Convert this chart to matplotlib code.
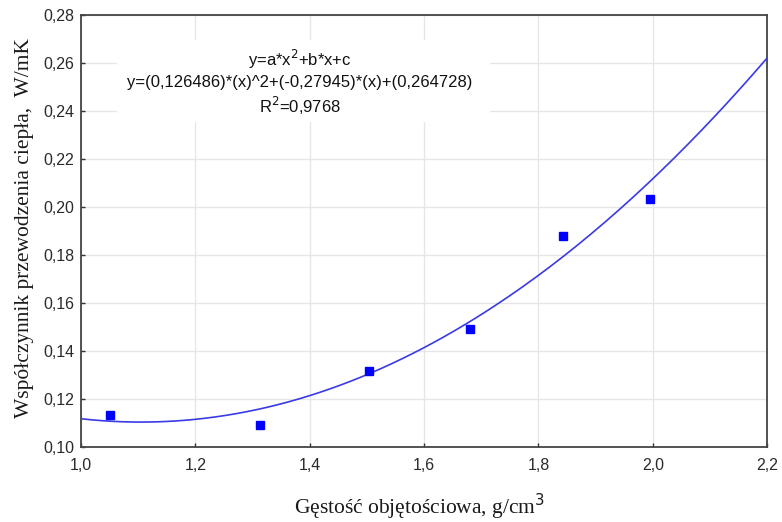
import numpy as np
import matplotlib
matplotlib.use('Agg')
import matplotlib.pyplot as plt
from matplotlib.patches import Rectangle
from matplotlib.ticker import FuncFormatter, MultipleLocator

# measured points (density g/cm3, conductivity W/mK)
density = [1.05, 1.313, 1.504, 1.680, 1.843, 1.995]
conductivity = [0.1133, 0.1092, 0.1317, 0.1492, 0.1879, 0.2033]

# fitted polynomial coefficients as printed on the chart (a, b, c)
fit_coeffs = [0.126486, -0.27945, 0.264728]
r_squared = '0,9768'

fig = plt.figure(figsize=(7.82, 5.22), dpi=100)
ax = fig.add_axes([0.1036, 0.1437, 0.8775, 0.8276])

xs = np.linspace(1.0, 2.2, 200)
ax.plot(xs, np.polyval(fit_coeffs, xs), color='#3a3ae6', lw=1.2, zorder=3)
ax.plot(density, conductivity, 's', color='#0000ff', ms=6.3, zorder=4)

ax.set_xlim(1.0, 2.2)
ax.set_ylim(0.10, 0.28)
ax.xaxis.set_major_locator(MultipleLocator(0.2))
ax.yaxis.set_major_locator(MultipleLocator(0.02))
ax.xaxis.set_major_formatter(FuncFormatter(lambda v, p: f'{v:.1f}'.replace('.', ',')))
ax.yaxis.set_major_formatter(FuncFormatter(lambda v, p: f'{v:.2f}'.replace('.', ',')))
ax.tick_params(direction='in', length=3, width=1, color='#333333',
               labelsize=11.5)
ax.tick_params(axis='x', pad=8)
ax.tick_params(axis='y', pad=5)
for lbl in ax.get_xticklabels() + ax.get_yticklabels():
    lbl.set_fontfamily('Liberation Sans')
    lbl.set_color('#2a2a2a')
ax.grid(True, color='#e6e6e6', lw=1)
ax.set_axisbelow(True)
for s in ax.spines.values():
    s.set_color('#444444')
    s.set_linewidth(1.3)

serif = {'family': 'Liberation Serif', 'size': 15.5, 'color': '#1a1a1a'}
ax.set_xlabel('Gęstość objętościowa, g/cm$^{3}$', fontdict=serif)
ax.set_ylabel('Współczynnik przewodzenia ciepła,  W/mK', fontdict=serif)
ax.xaxis.set_label_coords(0.494, -0.103)
ax.yaxis.set_label_coords(-0.069, 0.508)

# white panel behind the equation hides the grid
ax.add_patch(Rectangle((0.052, 0.752), 0.544, 0.19, transform=ax.transAxes,
                       facecolor='white', edgecolor='none', zorder=2))
eq = ('y=a*x$^2$+b*x+c\n'
      'y=(0,126486)*(x)^2+(-0,27945)*(x)+(0,264728)\n'
      f'R$^2$={r_squared}')
ax.text(0.319, 0.843, eq, transform=ax.transAxes, ha='center', va='center',
        family='Liberation Sans', fontsize=12, linespacing=1.3, color='#111111',
        zorder=5)

fig.savefig('out.png', dpi=100)
